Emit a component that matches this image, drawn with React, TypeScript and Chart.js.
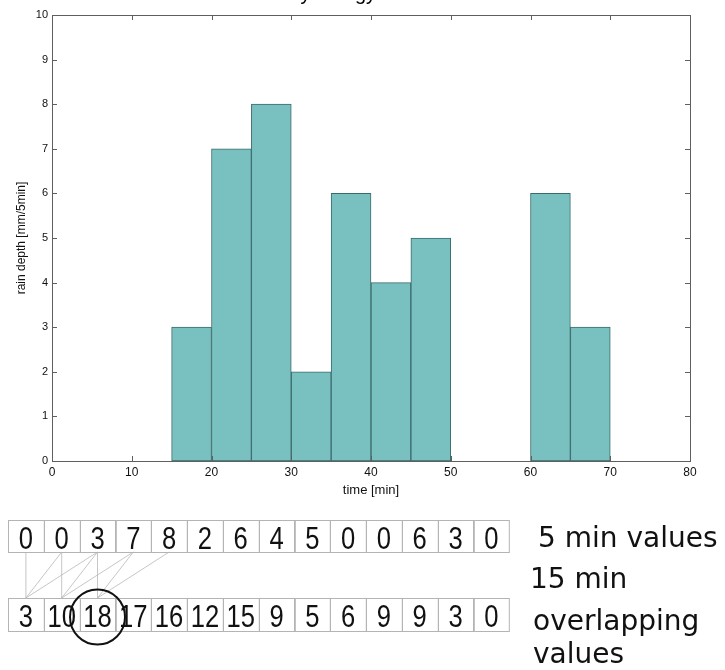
import React, { useEffect, useRef } from "react";
import { Chart, registerables } from "chart.js";

Chart.register(...registerables);

// 5-minute bins (bin start in minutes) and rain depth per bin
const binStarts = [0, 5, 10, 15, 20, 25, 30, 35, 40, 45, 50, 55, 60, 65, 70, 75];
const rainDepth = [0, 0, 0, 3, 7, 8, 2, 6, 4, 5, 0, 0, 6, 3, 0, 0];
const binWidth = 5;

// Diagram rows
const fiveMinValues = [0, 0, 3, 7, 8, 2, 6, 4, 5, 0, 0, 6, 3, 0];
const fifteenMinValues = [3, 10, 18, 17, 16, 12, 15, 9, 5, 6, 9, 9, 3, 0];
const highlightIndex = 2;

const xTitle = "time [min]";
const yTitle = "rain depth [mm/5min]";
const titleFragment = "Hydrology";

const FONT = "'Liberation Sans', Arial, sans-serif";

const boxPlugin = {
  id: "matlabBox",
  afterDatasetsDraw(chart: any) {
    const { ctx, chartArea, scales } = chart;
    const { left, top, right, bottom } = chartArea;
    ctx.save();
    ctx.strokeStyle = "#5f5f5f";
    ctx.lineWidth = 1;
    ctx.strokeRect(Math.round(left) + 0.5, Math.round(top) + 0.5, Math.round(right - left), Math.round(bottom - top));
    const tl = 5;
    ctx.beginPath();
    scales.x.ticks.forEach((t: any) => {
      const px = Math.round(scales.x.getPixelForValue(t.value)) + 0.5;
      ctx.moveTo(px, bottom);
      ctx.lineTo(px, bottom - tl);
      ctx.moveTo(px, top);
      ctx.lineTo(px, top + tl);
    });
    scales.y.ticks.forEach((t: any) => {
      const py = Math.round(scales.y.getPixelForValue(t.value)) + 0.5;
      ctx.moveTo(left, py);
      ctx.lineTo(left + tl, py);
      ctx.moveTo(right, py);
      ctx.lineTo(right - tl, py);
    });
    ctx.stroke();
    ctx.restore();
  },
};

const diagramPlugin = {
  id: "diagram",
  afterDraw(chart: any) {
    const ctx = chart.ctx;
    ctx.save();
    // cut-off title at top
    ctx.fillStyle = "#000";
    ctx.font = `20px ${FONT}`;
    ctx.textAlign = "right";
    ctx.textBaseline = "alphabetic";
    ctx.fillText(titleFragment, 376, 0);

    const x0 = 8;
    const w = 35.8;
    const r1Top = 520, r1H = 32;
    const r2Top = 598, r2H = 33;
    const cx = (i: number) => x0 + (i + 0.5) * w;

    // connecting lines
    ctx.strokeStyle = "#b8b8b8";
    ctx.lineWidth = 0.8;
    ctx.beginPath();
    for (let i = 0; i <= highlightIndex; i++) {
      for (let k = 0; k < 3; k++) {
        ctx.moveTo(cx(i + k), r1Top + r1H);
        ctx.lineTo(cx(i), r2Top);
      }
    }
    ctx.stroke();

    // boxes
    ctx.strokeStyle = "#b4b4b4";
    ctx.lineWidth = 1;
    fiveMinValues.forEach((_, i) => {
      ctx.strokeRect(Math.round(x0 + i * w) + 0.5, r1Top + 0.5, w, r1H);
    });
    fifteenMinValues.forEach((_, i) => {
      ctx.strokeRect(Math.round(x0 + i * w) + 0.5, r2Top + 0.5, w, r2H);
    });

    // numbers (condensed)
    ctx.fillStyle = "#111";
    ctx.textAlign = "center";
    ctx.textBaseline = "alphabetic";
    ctx.font = `32px ${FONT}`;
    const sx = 0.8;
    const drawNum = (txt: string, x: number, y: number) => {
      ctx.save();
      ctx.translate(x, y);
      ctx.scale(sx, 1);
      ctx.fillText(txt, 0, 0);
      ctx.restore();
    };
    fiveMinValues.forEach((v, i) => drawNum(String(v), cx(i), 549));
    fifteenMinValues.forEach((v, i) => drawNum(String(v), cx(i), 627));

    // circle
    ctx.strokeStyle = "#111";
    ctx.lineWidth = 2;
    ctx.beginPath();
    ctx.arc(cx(highlightIndex), 617, 27.5, 0, Math.PI * 2);
    ctx.stroke();

    // labels
    ctx.textAlign = "left";
    ctx.fillStyle = "#111";
    ctx.font = "28px 'DejaVu Sans', sans-serif";
    ctx.fillText("5 min values", 538, 547);
    ctx.fillText("15 min", 530, 588);
    ctx.fillText("overlapping", 533, 630);
    ctx.fillText("values", 533, 663);
    ctx.restore();
  },
};

export default function App() {
  const ref = useRef<HTMLCanvasElement | null>(null);

  useEffect(() => {
    if (!ref.current) return;
    const data = binStarts.map((s, i) => ({ x: s + binWidth / 2, y: rainDepth[i] }));
    const chart = new Chart(ref.current, {
      type: "bar",
      data: {
        datasets: [
          {
            data: data as any,
            backgroundColor: "#78c1c0",
            borderColor: "#3b6b6b",
            borderWidth: 1,
            borderSkipped: false,
            barPercentage: 1,
            categoryPercentage: 1,
          },
        ],
      },
      options: {
        animation: false,
        responsive: false,
        devicePixelRatio: 1,
        layout: { padding: { top: 15, right: 35, bottom: 169, left: 0 } },
        plugins: { legend: { display: false }, tooltip: { enabled: false } },
        scales: {
          x: {
            type: "linear",
            min: 0,
            max: 80,
            offset: false,
            grid: { display: false, drawTicks: false },
            border: { display: false },
            ticks: { stepSize: 10, padding: 4, color: "#111", font: { family: FONT, size: 12 } },
            title: { display: true, text: xTitle, color: "#111", font: { family: FONT, size: 13 }, padding: { top: 0, bottom: 3 } },
            afterFit: (s: any) => { s.height = 40; },
          },
          y: {
            min: 0,
            max: 10,
            grid: { display: false, drawTicks: false },
            border: { display: false },
            ticks: { stepSize: 1, padding: 4, color: "#111", font: { family: FONT, size: 11 } },
            title: { display: true, text: yTitle, color: "#111", font: { family: FONT, size: 12 }, padding: { top: 14, bottom: 0 } },
            afterFit: (s: any) => { s.width = 52; },
          },
        },
      },
      plugins: [boxPlugin, diagramPlugin],
    });
    return () => chart.destroy();
  }, []);

  return (
    <div style={{ position: "absolute", left: 0, top: 0, width: 725, height: 670, background: "#fff" }}>
      <canvas ref={ref} width={725} height={670} />
    </div>
  );
}
